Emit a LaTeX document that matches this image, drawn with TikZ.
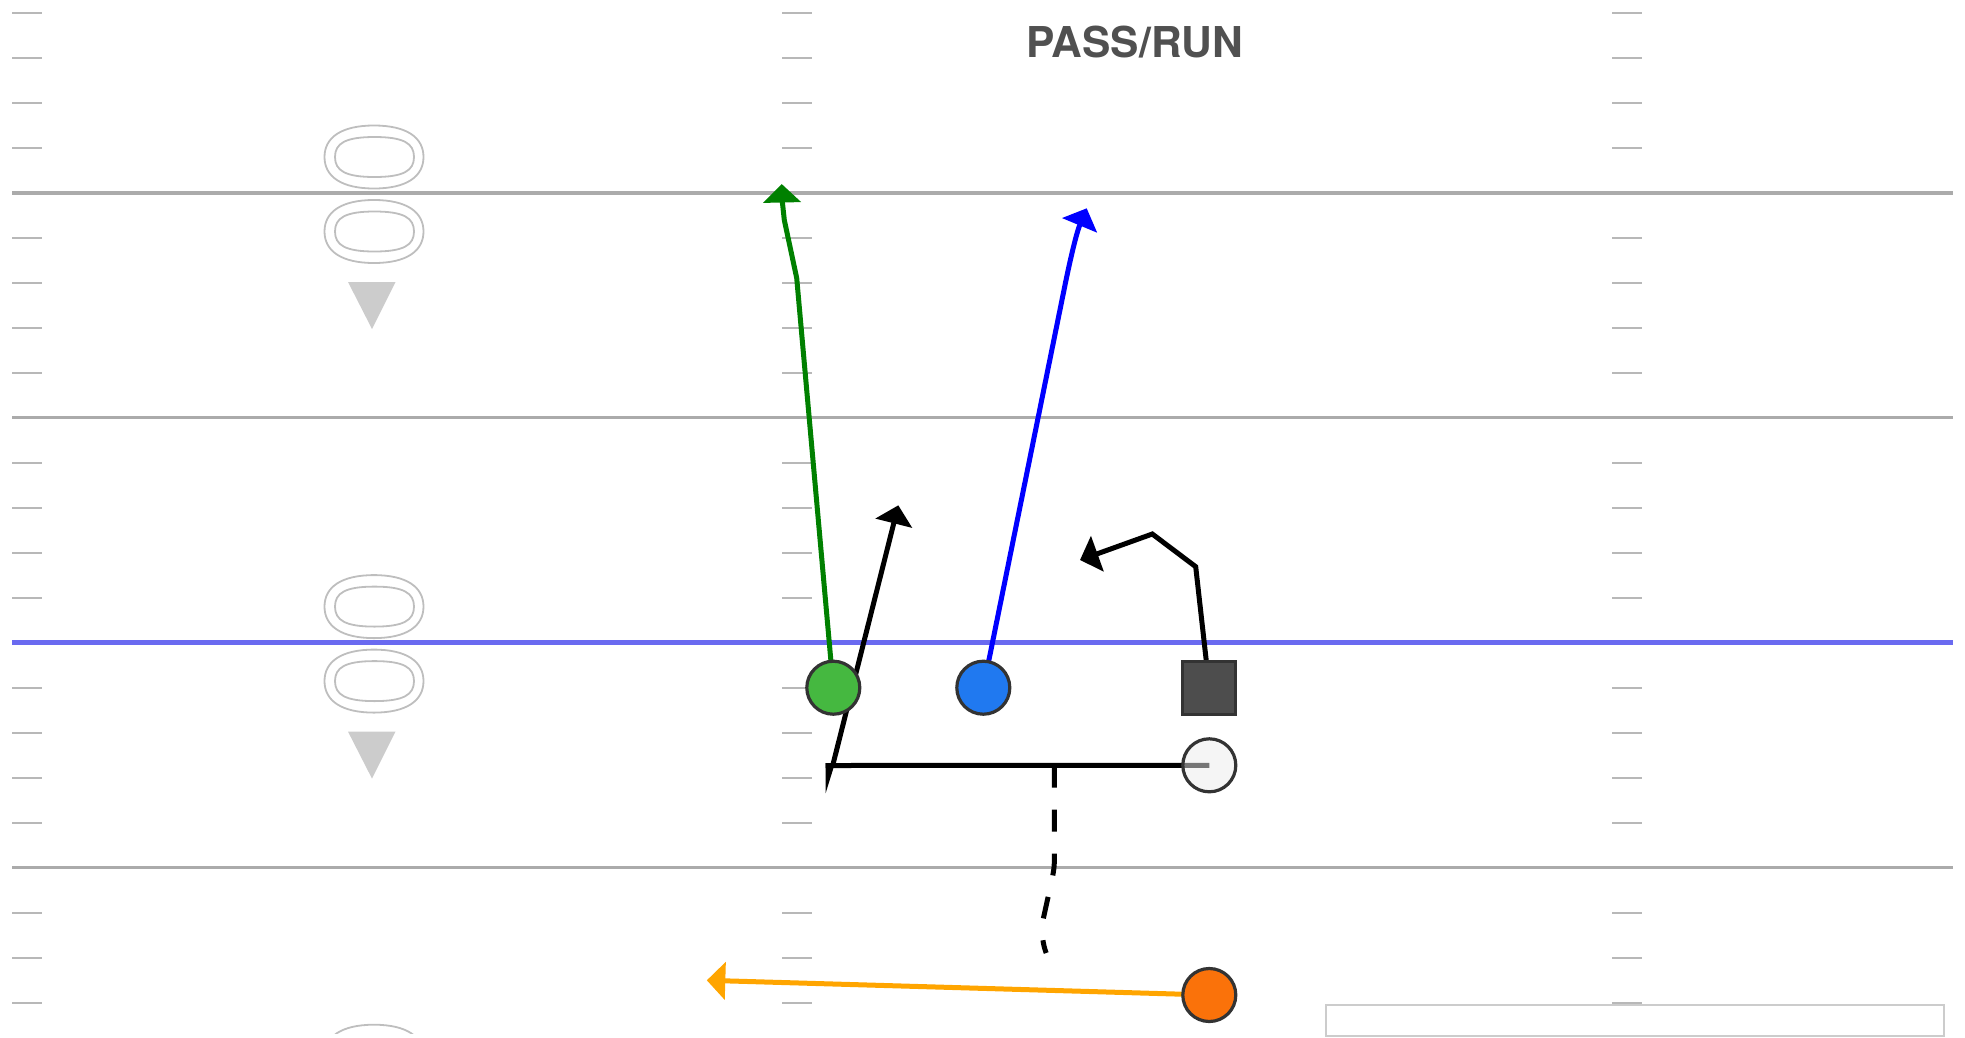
\documentclass[tikz,border=0pt]{standalone}
\usepackage{fontspec}
\setmainfont{TeX Gyre Heros}
\usetikzlibrary{arrows.meta}
\pgfdeclarelayer{field}
\pgfdeclarelayer{conn}
\pgfsetlayers{field,conn,main}
\definecolor{tickgray}{HTML}{B8B8B8}
\definecolor{linegray}{HTML}{ABABAB}
\definecolor{scrimmage}{HTML}{6A6AF0}
\definecolor{numgray}{HTML}{BEBEBE}
\definecolor{arrowgray}{HTML}{CCCCCC}
\definecolor{titlegray}{HTML}{505050}
\definecolor{ringgray}{HTML}{333333}
\definecolor{pgreen}{HTML}{45B840}
\definecolor{pblue}{HTML}{2079F0}
\definecolor{porange}{HTML}{FA720A}
\definecolor{psquare}{HTML}{4D4D4D}
\definecolor{pwhite}{HTML}{ECECEC}
\definecolor{rgreen}{HTML}{008000}
\definecolor{rblue}{HTML}{0000FF}
\definecolor{rorange}{HTML}{FFA500}
\tikzset{
  tickmark/.style={draw=tickgray,line width=2pt},
  yardline/.style={draw=linegray,line width=3.5pt},
  losline/.style={draw=scrimmage,line width=5pt},
  numstroke/.style={draw=numgray,line width=1.8pt},
  player/.style={circle,draw=ringgray,line width=3.2pt,minimum size=53pt,inner sep=0pt,outer sep=0pt},
  playersq/.style={rectangle,draw=ringgray,line width=3.2pt,minimum size=53pt,inner sep=0pt,outer sep=0pt},
  route/.style={line width=5pt,line join=miter,-{Triangle[length=18.5pt,width=37pt]}},
  plainroute/.style={line width=5pt},
  blockdash/.style={line width=5pt,dash pattern=on 22pt off 22pt},
}
\newcommand{\zeroglyph}[6]{% cx, cy, half width, half height, x control, y control
  \draw[numstroke] (#1-#3,#2) .. controls (#1-#3,#2-#6*#4) and (#1-#5*#3,#2-#4) .. (#1,#2-#4)
    .. controls (#1+#5*#3,#2-#4) and (#1+#3,#2-#6*#4) .. (#1+#3,#2)
    .. controls (#1+#3,#2+#6*#4) and (#1+#5*#3,#2+#4) .. (#1,#2+#4)
    .. controls (#1-#5*#3,#2+#4) and (#1-#3,#2+#6*#4) .. cycle;}
\begin{document}
\begin{tikzpicture}[x=1pt,y=-1pt]
\useasboundingbox (0,0) rectangle (1965,1037);
\begin{pgfonlayer}{field}
  \foreach \k in {0,...,22}{
    \pgfmathsetmacro{\ty}{13+45*\k}
    \draw[tickmark] (12,\ty) -- (42,\ty);
    \draw[tickmark] (782,\ty) -- (812,\ty);
    \draw[tickmark] (1612,\ty) -- (1642,\ty);
  }
  \draw[yardline] (12,192.8) -- (1953,192.8);
  \draw[yardline] (12,417.7) -- (1953,417.7);
  \draw[yardline] (12,867.6) -- (1953,867.6);
  \draw[losline] (12,642.8) -- (1953,642.8);
  \begin{scope}
    \clip (0,0) rectangle (1965,1033);
    \foreach \oy in {0,449.6,899.2}{
      \zeroglyph{374}{157+\oy}{49.5}{31.5}{.66}{.62}
      \zeroglyph{374.5}{157+\oy}{39.5}{20}{.74}{.68}
      \zeroglyph{374}{231.5+\oy}{49.5}{31.5}{.66}{.62}
      \zeroglyph{374.5}{231.5+\oy}{39.5}{20}{.74}{.68}
      \fill[arrowgray] (348,282+\oy) -- (395.5,282+\oy) -- (372,329+\oy) -- cycle;
    }
  \end{scope}
  \draw[draw=arrowgray,line width=2pt,fill=white] (1326,1005) rectangle (1944,1036);
\end{pgfonlayer}

\node[font=\bfseries\fontsize{42.5pt}{44pt}\selectfont,text=titlegray,anchor=base,inner sep=0pt] (title) at (1134.5,57.5) {PASS/RUN};

\node[player,fill=pgreen] (green) at (833.3,687.7) {};
\node[player,fill=pblue] (blue) at (983.3,687.7) {};
\node[playersq,fill=psquare] (square) at (1209.3,687.8) {};
\node[player,fill=pwhite,fill opacity=.5,draw opacity=1] (qb) at (1209.3,765.3) {};
\node[player,fill=porange] (orange) at (1209.3,995) {};

\coordinate (gb) at (796.7,278);
\coordinate (gc) at (784.3,220);
\coordinate (gt) at (781.7,184);
\coordinate (bb) at (1064,290);
\coordinate (bt) at (1086.7,208.3);
\coordinate (sa) at (1195.7,566.7);
\coordinate (sb) at (1152.3,534);
\coordinate (st) at (1080,560);
\coordinate (corner) at (825.5,765.5);
\coordinate (jn) at (832.7,765.5);
\coordinate (upt) at (898.3,505.3);
\coordinate (dashtop) at (1054.3,765.5);
\coordinate (otip) at (706.8,980.3);

\begin{pgfonlayer}{conn}
  \draw[route,draw=rgreen] (green.center) -- (gb) -- (gc) .. controls (783,208) and (782,198) .. (gt);
  \draw[route,draw=rblue] (blue.center) -- (bb) .. controls (1069,265) and (1076,234) .. (bt);
  \draw[route,draw=rorange] (orange.center) -- (otip);
  \draw[route] (square.center) -- (sa) -- (sb) -- (st);
  \draw[plainroute] (qb.center) -- (corner);
  \draw[route] (jn) -- (upt);
  \fill (825.5,763) -- (835,763) -- (825.6,793.3) -- cycle;
  \draw[blockdash] (dashtop) -- (1054.3,862) .. controls (1054.3,870) and (1052,880) .. (1047.4,900) -- (1042.8,921) .. controls (1041,932) and (1043,945) .. (1046.2,953);
\end{pgfonlayer}
\end{tikzpicture}
\end{document}
